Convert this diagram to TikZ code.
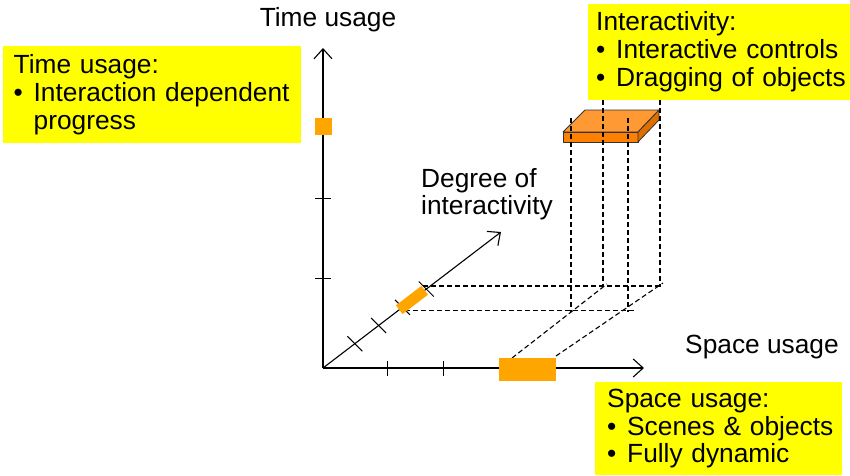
\documentclass[tikz,border=0pt]{standalone}
\usepackage{fontspec}
\setmainfont{Liberation Sans}
\usetikzlibrary{arrows.meta,calc}
\definecolor{hiyellow}{RGB}{255,255,0}
\definecolor{barorange}{RGB}{255,165,0}
\definecolor{boxtop}{RGB}{255,153,51}
\definecolor{boxfront}{RGB}{255,128,0}
\definecolor{boxside}{RGB}{222,110,0}
\newcommand{\bul}{\makebox[20pt][l]{\textbullet}}
\newcommand{\nobul}{\hspace*{20pt}}
\begin{document}
\begin{tikzpicture}[x=1pt, y=1pt,
    axis/.style={line width=1.1pt, -{Straight Barb[length=10pt,width=18pt]}},
    axtick/.style={line width=1pt},
    dashline/.style={line width=1.1pt, dash pattern=on 5pt off 3pt},
    orangebar/.style={fill=barorange, inner sep=0pt},
    boxedge/.style={draw=black!80, line width=0.8pt, line join=round},
    infobox/.style={fill=hiyellow, align=left, inner ysep=0pt, anchor=north west},
    axislabel/.style={font=\fontsize{26.3}{27}\selectfont, inner sep=0pt}]
    \useasboundingbox (0,0) rectangle (850,475);

    % axes
    \coordinate (O) at (323,107);
    \coordinate (ttip) at (323,427);
    \coordinate (stip) at (644,107);
    \coordinate (dtip) at (501,243);
    \draw[axis] (O) -- (ttip);
    \draw[axis] (O) -- (stip);
    \draw[axis] (O) -- (dtip);
    \foreach \y in {197,277}
      \draw[axtick] (315,\y) -- (331,\y);
    \foreach \x in {387,443}
      \draw[axtick] (\x,99.5) -- (\x,114.5);
    \foreach \d in {40,70,100,130}
      \draw[axtick] ($(O)!\d pt!(dtip)$) +(-7.5,7.5) -- +(7.5,-7.5);

    % projection lines
    \draw[dashline] (423,189) -- (662,189);
    \draw[dashline] (405,164.5) -- (634,164.5);
    \draw[dashline] (512,117) -- (607,191);
    \draw[dashline] (556,119) -- (663,192);

    % values on the axes
    \node[orangebar, minimum width=17pt, minimum height=17pt] (tbar) at (323,349) {};
    \node[orangebar, minimum width=57pt, minimum height=23pt] (sbar) at (527.5,105.5) {};
    \node[orangebar, minimum width=32pt, minimum height=11pt, rotate=37.4] (dbar) at ($(O)!112pt!(dtip)$) {};

    % the block
    \filldraw[boxedge, fill=boxtop] (563,343) -- (585,365) -- (659,365) -- (638,343) -- cycle;
    \filldraw[boxedge, fill=boxfront] (563,333) rectangle (638,343);
    \filldraw[boxedge, fill=boxside] (638,333) -- (638,343) -- (659,365) -- (659,355) -- cycle;
    \draw[dashline] (571,357) -- (571,163);
    \draw[dashline] (603,375) -- (603,188);
    \draw[dashline] (628,357) -- (628,163);
    \draw[dashline] (660,375) -- (660,188);

    % axis labels
    \node[axislabel, anchor=base] (tlabel) at (328,448) {Time usage};
    \node[axislabel, anchor=base west] (slabel) at (685,122) {Space usage};
    \node[axislabel, anchor=north west, align=left] (dlabel) at (421,307) {Degree of\\interactivity};

    % notes
    \node[infobox, font=\fontsize{26.3}{28}\selectfont, inner xsep=10.5pt, text width=277pt, minimum height=97pt] (timebox) at (3,429)
      {\mbox{Time usage:}\\\mbox{\bul Interaction dependent}\\\mbox{\nobul progress}};
    \node[infobox, font=\fontsize{26.3}{28}\selectfont, inner xsep=8pt, text width=246pt, minimum height=96pt] (actbox) at (588,471)
      {\mbox{Interactivity:}\\\mbox{\bul Interactive controls}\\\mbox{\bul Dragging of objects}};
    \node[infobox, font=\fontsize{26.3}{27.5}\selectfont, inner xsep=12pt, text width=223pt, minimum height=93pt] (spacebox) at (595,93)
      {\mbox{Space usage:}\\\mbox{\bul Scenes \& objects}\\\mbox{\bul Fully dynamic}};
\end{tikzpicture}
\end{document}
